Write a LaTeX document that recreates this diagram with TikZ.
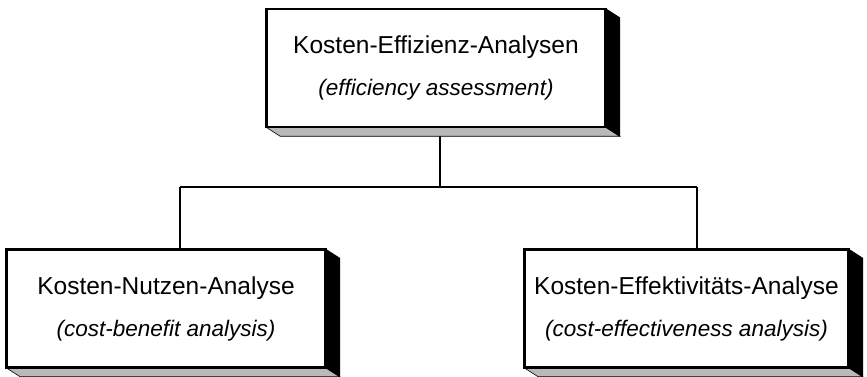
\documentclass[tikz,border=0pt]{standalone}
\usepackage{fontspec}
\setmainfont{Liberation Sans}
\newcommand{\engl}[1]{{\fontsize{22.5}{42}\selectfont\itshape #1}}

\begin{document}
\begin{tikzpicture}[
                    x=1pt, y=1pt,
                    every node/.style={font=\fontsize{24.5}{42}\selectfont},
                    boxfront/.style={draw, line width=1.6pt, fill=white, align=center, inner sep=0pt, minimum height=117pt},
                    floorface/.style={fill=gray!55, draw=black, line width=0.6pt},
                    sideface/.style={fill=black, draw=black, line width=0.6pt},
                    conn/.style={line width=1.2pt}
                ]
                \useasboundingbox (0,0) rectangle (867,377);

                % the three boxes (front faces)
                \node[boxfront, minimum width=338pt] (top) at (436,309)
                    {Kosten-Effizienz-Analysen\\\engl{(efficiency assessment)}};
                \node[boxfront, minimum width=318pt] (left) at (166,68.5)
                    {Kosten-Nutzen-Analyse\\\engl{(cost-benefit analysis)}};
                \node[boxfront, minimum width=323pt] (right) at (686.5,68.5)
                    {Kosten-Effektivitäts-Analyse\\\engl{(cost-effectiveness analysis)}};

                % tree lines
                \coordinate (hub) at (440,190);
                \coordinate (lhub) at (180,190);
                \coordinate (rhub) at (697,190);
                \draw[conn]
                    (top.south -| hub) -- (hub)
                    (lhub) -- (rhub)
                    (lhub) -- (lhub |- left.north)
                    (rhub) -- (rhub |- right.north);

                % bottom and side faces
                \foreach \b in {top,left,right} {
                    \draw[floorface] (\b.south west) -- (\b.south east)
                        -- ([shift={(14,-9)}]\b.south east) -- ([shift={(14,-9)}]\b.south west) -- cycle;
                    \draw[sideface] (\b.north east) -- ([shift={(14,-9)}]\b.north east)
                        -- ([shift={(14,-9)}]\b.south east) -- (\b.south east) -- cycle;
                    \draw[line width=1.6pt] (\b.south west) rectangle (\b.north east);
                }
            \end{tikzpicture}
\end{document}
